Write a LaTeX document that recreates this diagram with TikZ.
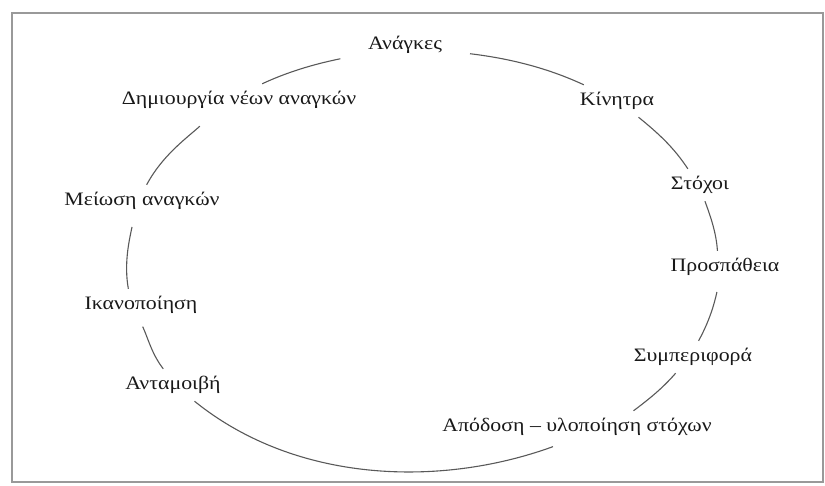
\documentclass[tikz,border=0pt]{standalone}
\usepackage{fontspec}
\setmainfont{Liberation Serif}[FakeStretch=1.15]
\begin{document}
\begin{tikzpicture}[x=1pt,y=1pt,
  main node/.style={font=\fontsize{19}{23}\selectfont,text=black!90,inner xsep=4pt,inner ysep=7pt,text height=13pt,text depth=5pt},
  link/.style={draw=black!65,line width=1.1pt,looseness=0.9}]
  \useasboundingbox (0,0) rectangle (825,-485);
  \draw[black!40,line width=1.5pt] (12,-13) rectangle (823,-482);

  \node[main node] (1) at (405,-45) {Ανάγκες};
  \node[main node] (2) at (617,-101) {Κίνητρα};
  \node[main node] (3) at (700,-185) {Στόχοι};
  \node[main node] (4) at (725,-267) {Προσπάθεια};
  \node[main node] (5) at (693,-357) {Συμπεριφορά};
  \node[main node] (6) at (577,-427) {Απόδοση – υλοποίηση στόχων};
  \node[main node] (7) at (173,-385) {Ανταμοιβή};
  \node[main node] (8) at (141,-305) {Ικανοποίηση};
  \node[main node] (9) at (142,-201) {Μείωση αναγκών};
  \node[main node] (10) at (239,-100) {Δημιουργία νέων αναγκών};

  \path[link]
   (1.-8) edge[out=-7,in=155,shorten <=24pt] (2.154)
   (2.-37) edge[out=-39,in=123] (3.127)
   (3.-73) edge[out=-70,in=94] (4.115)
   (4.-111) edge[out=-102,in=61,shorten <=9pt] (5.71)
   (5.-137) edge[out=-131,in=37] (6.16)
   (6.-132) edge[out=-160,in=-39,shorten <=10pt] (7.-37)
   (7.121) edge[out=128,in=-65,shorten >=6pt] (8.-93)
   (8.128) edge[out=100,in=-102,shorten >=10pt] (9.-116)
   (9.74) edge[out=62,in=-138,shorten >=15pt] (10.-150)
   (10.35) edge[out=25,in=-168,shorten >=24pt] (1.-168);
\end{tikzpicture}
\end{document}
